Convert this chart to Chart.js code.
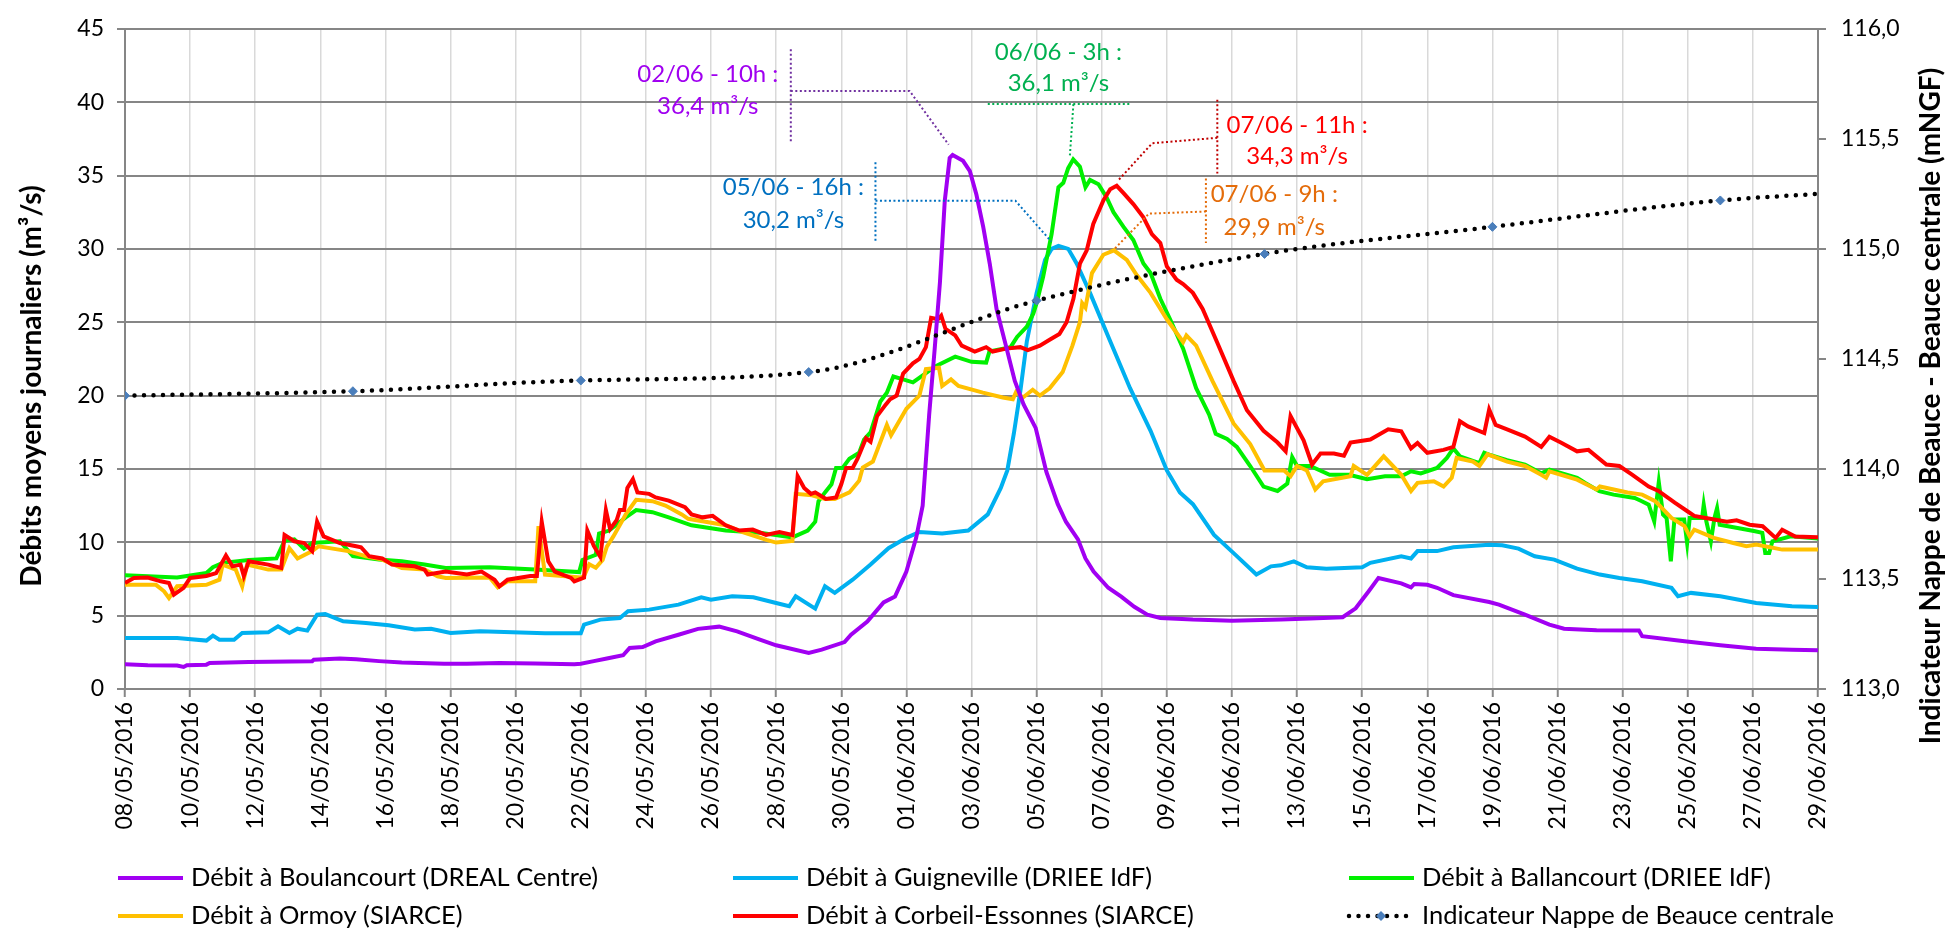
<!DOCTYPE html>
<html>
<head>
<meta charset="utf-8">
<script src="https://cdn.jsdelivr.net/npm/chart.js@4.4.1/dist/chart.umd.min.js"></script>
<style>
  html, body { margin: 0; padding: 0; background: #fff; }
  canvas { display: block; }
</style>
</head>
<body>
<canvas id="debitsChart" width="1957" height="931" style="width:1957px;height:931px"></canvas>
<script>
// jours depuis le 08/05/2016 00h, debit en m3/s
const tickDates = ['08/05/2016', '10/05/2016', '12/05/2016', '14/05/2016', '16/05/2016', '18/05/2016', '20/05/2016',
  '22/05/2016', '24/05/2016', '26/05/2016', '28/05/2016', '30/05/2016', '01/06/2016', '03/06/2016', '05/06/2016',
  '07/06/2016', '09/06/2016', '11/06/2016', '13/06/2016', '15/06/2016', '17/06/2016', '19/06/2016', '21/06/2016',
  '23/06/2016', '25/06/2016', '27/06/2016', '29/06/2016'];

const boulancourt = [[0,1.68],[0.7,1.62],[1.6,1.6],[1.8,1.5],[1.9,1.62],[2.5,1.66],[2.6,1.77],[3.8,1.84],[5.75,1.89],
  [5.8,2.0],[6.6,2.08],[7.1,2.02],[7.8,1.9],[8.5,1.8],[9.8,1.72],[10.5,1.72],[11.5,1.78],[12.6,1.74],[13.8,1.68],
  [14.0,1.72],[14.4,1.9],[14.8,2.08],[15.3,2.3],[15.5,2.8],[15.9,2.86],[16.3,3.25],[17.0,3.7],[17.6,4.1],[18.25,4.25],
  [18.8,3.93],[19.5,3.36],[20.0,2.98],[21.0,2.45],[21.4,2.68],[22.1,3.2],[22.3,3.7],[22.8,4.6],[23.3,5.9],[23.65,6.3],
  [24.0,8.0],[24.3,10.3],[24.5,12.5],[24.7,18.7],[24.87,23.2],[25.03,27.7],[25.18,33.3],[25.33,36.2],[25.42,36.4],
  [25.74,36.0],[25.95,35.3],[26.15,33.7],[26.36,31.5],[26.56,29.0],[26.77,25.9],[27.08,23.2],[27.33,21.0],[27.6,19.4],
  [27.97,17.8],[28.3,14.8],[28.65,12.6],[28.9,11.4],[29.27,10.2],[29.5,8.9],[29.75,8.0],[30.2,6.9],[30.6,6.3],
  [31.0,5.6],[31.4,5.07],[31.8,4.84],[32.8,4.73],[34.0,4.66],[35.5,4.73],[36.4,4.8],[37.4,4.89],[37.8,5.5],[38.2,6.66],
  [38.5,7.57],[39.2,7.2],[39.5,6.93],[39.6,7.16],[40.0,7.1],[40.3,6.9],[40.8,6.4],[41.9,5.93],[42.2,5.75],[43.0,5.07],
  [43.75,4.39],[44.2,4.11],[45.2,4.0],[46.5,3.98],[46.6,3.6],[47.9,3.25],[49.0,2.98],[50.1,2.75],[51.2,2.68],[52,2.64]];

const guigneville = [[0,3.48],[1.6,3.48],[2.5,3.3],[2.7,3.64],[2.9,3.36],[3.35,3.36],[3.6,3.82],[4.4,3.86],[4.7,4.27],
  [5.05,3.82],[5.3,4.11],[5.6,3.98],[5.9,5.07],[6.15,5.11],[6.7,4.61],[7.4,4.5],[8.1,4.34],[8.9,4.05],[9.4,4.11],
  [10.0,3.82],[10.9,3.93],[11.9,3.86],[12.9,3.8],[14.0,3.8],[14.1,4.39],[14.6,4.73],[15.2,4.84],[15.45,5.3],[16.1,5.41],
  [17.0,5.75],[17.7,6.25],[18.0,6.09],[18.65,6.32],[19.3,6.25],[20.0,5.86],[20.4,5.64],[20.6,6.32],[21.2,5.48],
  [21.5,7.0],[21.8,6.55],[22.35,7.45],[22.9,8.48],[23.45,9.6],[24.0,10.3],[24.4,10.7],[25.1,10.6],[25.9,10.8],
  [26.5,11.9],[26.9,13.7],[27.1,14.9],[27.3,17.4],[27.5,20.3],[27.7,23.7],[28.0,27.0],[28.26,29.25],[28.46,30.0],
  [28.67,30.2],[28.97,30.0],[29.23,29.0],[29.64,27.0],[30.26,23.7],[30.87,20.5],[31.5,17.6],[32.0,14.9],[32.4,13.4],
  [32.8,12.6],[33.45,10.5],[34.1,9.16],[34.75,7.8],[35.2,8.36],[35.5,8.43],[35.9,8.7],[36.3,8.3],[36.9,8.2],[38.0,8.3],
  [38.25,8.6],[39.2,9.05],[39.5,8.9],[39.7,9.4],[40.3,9.4],[40.8,9.66],[41.9,9.84],[42.3,9.8],[42.8,9.57],[43.3,9.05],
  [43.9,8.82],[44.6,8.2],[45.3,7.8],[45.9,7.57],[46.6,7.34],[47.5,6.89],[47.7,6.32],[48.1,6.55],[49.0,6.32],[50.1,5.86],
  [51.2,5.64],[52,5.59]];

const ballancourt = [[0,7.75],[1.6,7.6],[2.5,7.9],[2.7,8.3],[3.0,8.6],[3.8,8.8],[4.65,8.9],[4.9,10.1],[5.2,10.2],
  [5.5,9.57],[5.75,9.95],[6.6,10.07],[7.0,9.05],[7.8,8.82],[8.5,8.7],[9.2,8.48],[9.85,8.25],[11.2,8.3],[12.6,8.14],
  [13.95,7.97],[14.05,8.8],[14.46,9.15],[14.56,10.6],[14.87,10.8],[15.38,11.7],[15.7,12.2],[16.2,12.05],[16.7,11.7],
  [17.4,11.16],[18.45,10.8],[19.5,10.65],[20.5,10.33],[20.97,10.8],[21.2,11.4],[21.3,12.8],[21.5,13.4],[21.7,13.95],
  [21.84,15.07],[22.04,15.07],[22.25,15.7],[22.55,16.1],[22.7,17.0],[22.9,17.5],[23.2,19.6],[23.4,20.2],[23.6,21.3],
  [23.9,21.1],[24.2,20.9],[24.45,21.3],[24.9,22.0],[25.5,22.65],[26.0,22.3],[26.45,22.25],[26.55,23.0],[27.2,23.3],
  [27.4,24.0],[27.7,24.7],[27.9,25.6],[28.0,26.3],[28.2,28.1],[28.46,31.0],[28.67,34.2],[28.82,34.5],[28.97,35.5],
  [29.125,36.1],[29.33,35.6],[29.5,34.2],[29.64,34.7],[29.9,34.4],[30.15,33.5],[30.36,32.5],[30.67,31.5],[30.97,30.6],
  [31.28,29.0],[31.5,28.35],[31.8,26.6],[32.1,25.2],[32.5,23.2],[32.9,20.5],[33.3,18.7],[33.5,17.4],[33.85,17.05],
  [34.15,16.5],[34.56,15.2],[34.97,13.8],[35.4,13.5],[35.7,14.0],[35.85,15.8],[36.0,15.2],[36.4,15.2],[37.0,14.6],
  [37.6,14.6],[38.15,14.3],[38.7,14.5],[39.2,14.5],[39.5,14.84],[39.8,14.7],[40.3,15.07],[40.6,15.75],[40.8,16.4],
  [41.0,15.86],[41.6,15.4],[41.75,16.1],[41.9,15.98],[42.45,15.6],[43.0,15.3],[43.5,14.7],[43.75,14.95],[44.3,14.6],
  [44.6,14.4],[44.85,14.05],[45.28,13.48],[45.72,13.25],[46.37,13.02],[46.59,12.8],[46.8,12.57],[46.97,11.43],
  [47.11,14.1],[47.24,11.89],[47.35,11.66],[47.48,8.7],[47.59,11.55],[47.89,11.55],[47.98,9.95],[48.06,11.66],
  [48.44,11.66],[48.49,12.57],[48.57,11.43],[48.71,10.07],[48.82,11.66],[48.9,12.34],[48.98,11.2],[49.53,10.98],
  [50.07,10.75],[50.29,10.64],[50.38,9.27],[50.5,9.27],[50.6,10.07],[51.16,10.41],[52,10.25]];

const ormoy = [[0,7.1],[0.95,7.1],[1.2,6.66],[1.35,6.2],[1.6,7.0],[2.5,7.1],[2.9,7.45],[3.0,8.48],[3.4,8.14],[3.6,7.0],
  [3.75,8.48],[4.4,8.14],[4.8,8.14],[5.05,9.6],[5.3,8.9],[5.75,9.4],[5.95,9.73],[6.85,9.4],[7.4,9.05],[7.9,8.82],
  [8.5,8.25],[9.2,8.14],[9.6,7.68],[9.85,7.57],[11.2,7.6],[11.45,6.93],[11.75,7.34],[12.6,7.34],[12.7,11.1],[12.9,7.8],
  [14.0,7.6],[14.1,7.7],[14.26,8.5],[14.46,8.26],[14.67,8.8],[14.8,9.7],[15.0,10.4],[15.38,11.9],[15.7,12.9],[16.2,12.8],
  [16.6,12.5],[17.1,11.9],[17.3,11.6],[18.45,11.16],[18.97,10.7],[19.7,10.16],[20.0,9.98],[20.5,10.1],[20.6,13.3],
  [21.1,13.2],[21.5,12.95],[21.8,12.95],[22.25,13.4],[22.55,14.2],[22.66,15.1],[22.97,15.5],[23.4,18.0],[23.53,17.3],
  [24.0,19.1],[24.4,20.0],[24.6,21.8],[25.0,21.9],[25.1,20.65],[25.37,21.1],[25.6,20.65],[26.35,20.2],[26.96,19.87],
  [27.27,19.75],[27.37,20.25],[27.58,19.87],[27.88,20.4],[28.1,20.0],[28.4,20.5],[28.8,21.6],[29.1,23.4],[29.33,25.0],
  [29.4,26.3],[29.5,26.0],[29.7,28.35],[30.05,29.6],[30.375,29.9],[30.77,29.25],[31.08,28.2],[31.5,27.0],[32.0,25.2],
  [32.5,23.65],[32.6,24.1],[32.9,23.4],[33.4,21.0],[34.05,18.1],[34.56,16.7],[35.0,14.9],[35.6,14.9],[35.8,14.5],
  [36.0,15.2],[36.3,14.9],[36.56,13.6],[36.8,14.15],[37.64,14.5],[37.74,15.2],[38.15,14.6],[38.66,15.86],[39.2,14.6],
  [39.5,13.5],[39.7,14.05],[40.2,14.16],[40.5,13.8],[40.75,14.4],[40.9,15.75],[41.4,15.5],[41.6,15.2],[41.85,16.0],
  [42.45,15.5],[43.0,15.2],[43.5,14.6],[43.65,14.4],[43.75,14.84],[44.6,14.27],[45.2,13.6],[45.3,13.8],[46.15,13.4],
  [46.6,13.25],[47.0,12.8],[47.5,11.66],[47.9,11.1],[48.06,10.4],[48.2,10.86],[48.8,10.3],[49.4,9.95],[49.8,9.73],
  [50.1,9.84],[50.9,9.5],[52,9.5]];

const corbeil = [[0,7.23],[0.27,7.57],[0.7,7.6],[1.1,7.34],[1.35,7.23],[1.5,6.43],[1.8,6.9],[2.0,7.57],[2.5,7.7],
  [2.8,7.9],[3.1,9.1],[3.3,8.36],[3.55,8.48],[3.65,7.7],[3.8,8.7],[4.4,8.48],[4.8,8.25],[4.9,10.5],[5.2,10.07],
  [5.5,9.95],[5.75,9.4],[5.9,11.4],[6.1,10.4],[6.6,9.95],[7.1,9.73],[7.25,9.66],[7.5,9.05],[7.9,8.9],[8.2,8.48],
  [8.9,8.36],[9.2,8.14],[9.3,7.8],[9.85,8.0],[10.5,7.8],[10.95,8.0],[11.35,7.45],[11.5,7.0],[11.75,7.45],[12.45,7.7],
  [12.65,7.7],[12.8,11.4],[13.0,8.7],[13.2,8.0],[13.7,7.57],[13.8,7.34],[14.1,7.6],[14.2,10.8],[14.4,9.75],[14.6,9.0],
  [14.77,12.2],[14.9,10.9],[15.1,11.5],[15.2,12.2],[15.33,12.2],[15.43,13.7],[15.6,14.3],[15.74,13.4],[16.1,13.3],
  [16.3,13.06],[16.7,12.84],[17.2,12.4],[17.4,11.9],[17.74,11.7],[18.05,11.8],[18.45,11.16],[18.87,10.8],[19.28,10.87],
  [19.69,10.5],[20.1,10.7],[20.5,10.5],[20.66,14.5],[20.86,13.7],[21.07,13.3],[21.2,13.4],[21.53,12.95],[21.84,13.06],
  [22.0,13.95],[22.15,15.07],[22.35,15.07],[22.5,15.7],[22.76,17.1],[22.9,16.85],[23.1,18.6],[23.37,19.4],[23.5,19.75],
  [23.7,20.0],[23.9,21.5],[24.2,22.2],[24.4,22.5],[24.6,23.3],[24.76,25.3],[24.97,25.2],[25.07,25.45],[25.2,24.55],
  [25.5,24.1],[25.7,23.4],[26.1,23.0],[26.45,23.3],[26.65,23.0],[27.06,23.2],[27.5,23.3],[27.73,23.1],[28.1,23.4],
  [28.4,23.8],[28.7,24.2],[28.92,25.0],[29.13,26.6],[29.33,29.0],[29.54,29.9],[29.74,31.7],[30.05,33.3],[30.26,34.06],
  [30.46,34.3],[30.67,33.8],[30.97,33.05],[31.28,32.15],[31.54,31.0],[31.8,30.4],[32.0,28.8],[32.3,27.9],[32.5,27.6],
  [32.8,27.0],[33.1,25.9],[33.54,23.65],[34.05,21.0],[34.46,19.0],[34.97,17.6],[35.4,16.8],[35.65,16.2],[35.8,18.6],
  [36.2,16.95],[36.46,15.3],[36.72,16.05],[37.13,16.05],[37.44,15.9],[37.64,16.8],[38.25,17.0],[38.8,17.7],[39.2,17.57],
  [39.5,16.4],[39.7,16.77],[40.0,16.1],[40.5,16.3],[40.8,16.5],[41.0,18.25],[41.25,17.9],[41.75,17.45],[41.9,19.05],
  [42.1,18.0],[42.45,17.7],[43.0,17.2],[43.5,16.5],[43.75,17.2],[44.1,16.8],[44.6,16.2],[44.95,16.3],[45.5,15.3],
  [45.9,15.2],[46.3,14.6],[46.8,13.8],[47.1,13.5],[47.6,12.7],[48.0,12.1],[48.2,11.8],[48.55,11.66],[49.2,11.4],
  [49.5,11.5],[49.9,11.2],[50.3,11.1],[50.7,10.3],[50.9,10.86],[51.3,10.4],[52,10.35]];

// niveau de la nappe (mNGF), releves hebdomadaires
const nappe = [[0,114.333],[7,114.353],[14,114.402],[21,114.44],[28,114.765],[35,114.977],[42,115.10],[49,115.22],[52,115.25]];

const seriesNames = ['Débit à Boulancourt (DREAL Centre)', 'Débit à Guigneville (DRIEE IdF)', 'Débit à Ballancourt (DRIEE IdF)',
  'Débit à Ormoy (SIARCE)', 'Débit à Corbeil-Essonnes (SIARCE)', 'Indicateur Nappe de Beauce centrale'];
const seriesColors = ['#a100f2', '#00b0f0', '#00f000', '#ffc000', '#ff0000', '#000000'];

// etiquettes des pics : texte, position du texte (jour, debit), traits de rappel
const callouts = [
  { text: ['02/06 - 10h :', '36,4 m³/s'], color: '#a000f0', lead: '#7030a0', x: 17.9, y: [41.9, 39.75],
    paths: [[[20.45, 43.6], [20.45, 37.3]], [[20.45, 40.76], [24.1, 40.76], [25.3, 37.1]]] },
  { text: ['06/06 - 3h :', '36,1 m³/s'], color: '#00b050', lead: '#00b050', x: 28.67, y: [43.4, 41.3],
    paths: [[[26.5, 39.87], [30.9, 39.87]], [[29.13, 39.87], [29.02, 36.3]]] },
  { text: ['05/06 - 16h :', '30,2 m³/s'], color: '#0070c0', lead: '#0070c0', x: 20.53, y: [34.17, 31.94],
    paths: [[[23.05, 35.9], [23.05, 30.38]], [[23.05, 33.28], [27.35, 33.28], [28.45, 30.5]]] },
  { text: ['07/06 - 11h :', '34,3 m³/s'], color: '#ff0000', lead: '#c00000', x: 36.0, y: [38.4, 36.3],
    paths: [[[33.55, 40.16], [33.55, 35.13]], [[33.55, 37.57], [31.55, 37.2], [30.5, 34.65]]] },
  { text: ['07/06 - 9h :', '29,9 m³/s'], color: '#e46c0a', lead: '#e46c0a', x: 35.3, y: [33.7, 31.5],
    paths: [[[33.2, 34.8], [33.2, 30.4]], [[33.2, 32.55], [31.45, 32.4], [30.37, 29.95]]] }
];

const FONT = 'Lato, "DejaVu Sans", sans-serif';
const toXY = arr => arr.map(p => ({ x: p[0], y: p[1] }));

const flowSets = [boulancourt, guigneville, ballancourt, ormoy, corbeil].map((d, i) => ({
  label: seriesNames[i],
  data: toXY(d),
  borderColor: seriesColors[i],
  backgroundColor: seriesColors[i],
  borderWidth: 4,
  pointRadius: 0,
  tension: 0,
  yAxisID: 'y',
  order: [1, 5, 4, 3, 2][i]
}));

const nappeSet = {
  label: seriesNames[5],
  data: toXY(nappe),
  yAxisID: 'y1',
  borderColor: '#000',
  borderWidth: 4.5,
  borderDash: [0, 9.5],
  borderCapStyle: 'round',
  cubicInterpolationMode: 'monotone',
  pointStyle: 'rectRot',
  pointRadius: nappe.map((p, i) => i === nappe.length - 1 ? 0 : 4.5),
  pointBackgroundColor: '#4a7ebb',
  pointBorderColor: '#4a7ebb',
  pointBorderWidth: 1,
  order: 0
};

// legende sur 3 colonnes, facon Excel
const legendCols = [118, 733, 1349];
const legendRows = [878, 916];

const excelLegend = {
  id: 'excelLegend',
  afterDraw(chart) {
    const { ctx } = chart;
    ctx.save();
    ctx.font = '25.5px ' + FONT;
    ctx.textBaseline = 'middle';
    chart.data.datasets.forEach((ds, i) => {
      const x = legendCols[i % 3], y = legendRows[Math.floor(i / 3)];
      ctx.strokeStyle = ds.borderColor;
      ctx.lineWidth = ds.borderDash ? ds.borderWidth : 4;
      if (ds.borderDash) { ctx.setLineDash(ds.borderDash); ctx.lineCap = 'round'; }
      else { ctx.setLineDash([]); ctx.lineCap = 'butt'; }
      ctx.beginPath();
      ctx.moveTo(x, y);
      ctx.lineTo(x + 65, y);
      ctx.stroke();
      if (ds.pointStyle === 'rectRot') {
        ctx.setLineDash([]);
        ctx.fillStyle = ds.pointBackgroundColor;
        ctx.beginPath();
        ctx.moveTo(x + 32, y - 5); ctx.lineTo(x + 37, y); ctx.lineTo(x + 32, y + 5); ctx.lineTo(x + 27, y);
        ctx.closePath();
        ctx.fill();
      }
      ctx.fillStyle = '#000';
      ctx.fillText(ds.label, x + 73, y);
    });
    ctx.restore();
  }
};

const peakLabels = {
  id: 'peakLabels',
  afterDatasetsDraw(chart) {
    const { ctx } = chart;
    const sx = chart.scales.x, sy = chart.scales.y;
    ctx.save();
    callouts.forEach(c => {
      ctx.strokeStyle = c.lead;
      ctx.lineWidth = 2;
      ctx.setLineDash([2, 2.5]);
      c.paths.forEach(path => {
        ctx.beginPath();
        path.forEach((p, k) => {
          const px = sx.getPixelForValue(p[0]), py = sy.getPixelForValue(p[1]);
          if (k === 0) ctx.moveTo(px, py); else ctx.lineTo(px, py);
        });
        ctx.stroke();
      });
      ctx.setLineDash([]);
      ctx.fillStyle = c.color;
      ctx.font = '24px ' + FONT;
      ctx.textAlign = 'center';
      ctx.textBaseline = 'middle';
      c.text.forEach((t, k) => ctx.fillText(t, sx.getPixelForValue(c.x), sy.getPixelForValue(c.y[k])));
    });
    ctx.restore();
  }
};

const axisTitles = {
  id: 'axisTitles',
  afterDraw(chart) {
    const { ctx } = chart;
    const draw = (text, x, y) => {
      ctx.save();
      ctx.translate(x, y);
      ctx.rotate(-Math.PI / 2);
      ctx.font = 'bold 28px ' + FONT;
      ctx.fillStyle = '#000';
      ctx.textAlign = 'center';
      ctx.textBaseline = 'middle';
      ctx.fillText(text, 0, 0);
      ctx.restore();
    };
    draw('Débits moyens journaliers (m³/s)', 32, 386);
    draw('Indicateur Nappe de Beauce - Beauce centrale (mNGF)', 1931, 406);
  }
};

const ctx = document.getElementById('debitsChart').getContext('2d');

const chart = new Chart(ctx, {
  type: 'line',
  data: { datasets: [...flowSets, nappeSet] },
  plugins: [peakLabels, excelLegend, axisTitles],
  options: {
    responsive: false,
    animation: false,
    devicePixelRatio: 1,
    layout: { padding: { top: 18, left: 0, right: 0, bottom: 0 } },
    plugins: {
      legend: { display: false },
      tooltip: { enabled: false }
    },
    scales: {
      x: {
        type: 'linear',
        min: 0,
        max: 52,
        ticks: {
          stepSize: 2,
          autoSkip: false,
          minRotation: 90,
          maxRotation: 90,
          padding: 5,
          color: '#000',
          font: { family: FONT, size: 23 },
          callback: (v, i) => tickDates[i]
        },
        grid: { color: '#d9d9d9', lineWidth: 1.5, tickColor: '#868686', tickLength: 8, tickWidth: 2 },
        border: { color: '#868686', width: 2 },
        afterFit: s => { s.height = 242; }
      },
      y: {
        position: 'left',
        min: 0,
        max: 45,
        ticks: {
          stepSize: 5,
          padding: 13,
          color: '#000',
          font: { family: FONT, size: 23 }
        },
        grid: { color: '#868686', lineWidth: 2, tickLength: 8 },
        border: { color: '#868686', width: 2 },
        afterFit: s => { s.width = 125; }
      },
      y1: {
        position: 'right',
        min: 113,
        max: 116,
        ticks: {
          stepSize: 0.5,
          padding: 15,
          color: '#000',
          font: { family: FONT, size: 23 },
          callback: v => v.toFixed(1).replace('.', ',')
        },
        grid: { drawOnChartArea: false, color: '#868686', lineWidth: 2, tickLength: 8 },
        border: { color: '#868686', width: 2 },
        afterFit: s => { s.width = 139; }
      }
    }
  }
});
</script>
</body>
</html>
